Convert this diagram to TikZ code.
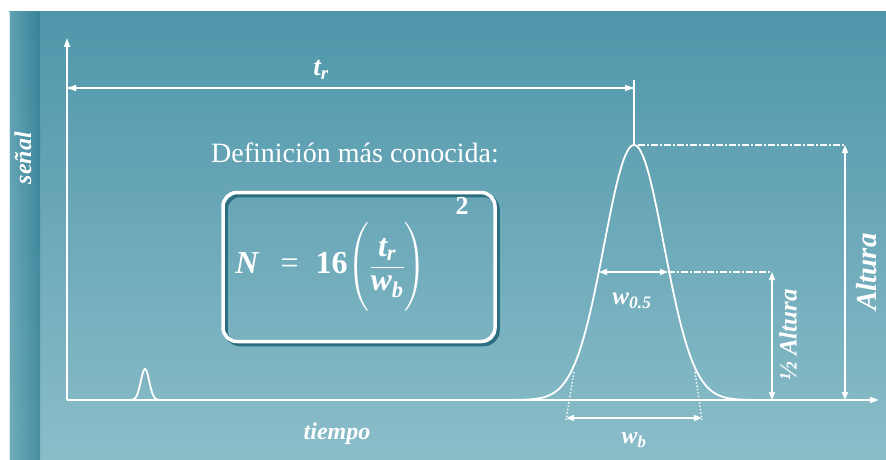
\documentclass[tikz,border=0pt]{standalone}
\usepackage{fontspec}
\setmainfont{Liberation Serif}
\usepackage{amsmath}
\usetikzlibrary{arrows.meta}
\definecolor{paneltop}{HTML}{4F96AA}
\definecolor{panelbot}{HTML}{8BBDC9}
\definecolor{stripdark}{HTML}{2E7C91}
\definecolor{striplight}{HTML}{67A6B7}
\definecolor{boxshade}{HTML}{2A6E80}
\newcommand{\bisub}[2]{{\bfseries\itshape #1$_{\text{\bfseries\itshape #2}}$}}

\tikzset{
  wline/.style={white,line width=1.8pt},
  tip/.style={-{Triangle[length=9pt,width=6pt]}},
  dimarrow/.style={white,line width=1.5pt,{Triangle[length=8pt,width=6pt]}-{Triangle[length=8pt,width=6pt]}},
  dashdot/.style={white,line width=1.5pt,dash pattern=on 7pt off 2pt on 2pt off 2pt},
  tangent/.style={white,line width=1.4pt,dotted},
  lbl/.style={text=white,font=\fontsize{24}{28}\selectfont\bfseries\itshape},
  formbox/.style={draw=white,line width=3.5pt,rounded corners=14pt,minimum width=272pt,minimum height=149pt},
  shadebox/.style={formbox,draw=boxshade},
}

\begin{document}
\begin{tikzpicture}[x=1pt,y=-1pt,font=\fontsize{24}{28}\selectfont]
  \useasboundingbox (0,0) rectangle (886,460);
  \fill[white] (0,0) rectangle (886,460);
  % panel
  \shade[top color=paneltop,bottom color=panelbot] (9,12) rectangle (886,460);
  \shade[left color=striplight,right color=stripdark,opacity=0.7] (9,12) rectangle (40,460);
  \draw[white!70!panelbot,line width=1pt] (9.5,12) -- (9.5,460);

  % axes
  \coordinate (O) at (67,400);
  \coordinate (ytip) at (67,38);
  \coordinate (xtip) at (879,400);
  \draw[wline,tip] (O) -- (ytip);
  \draw[wline,tip] (O) -- (xtip);
  \node[lbl,rotate=90] (senal) at (23,158) {señal};
  \node[lbl] (tiempo) at (337,434) {tiempo};

  % small peak
  \draw[wline] plot[domain=125:165,samples=60] (\x,{400-31*exp(-((\x-145)/4.2)^2/2)});

  % main peak
  \draw[wline] plot[domain=515:755,samples=160] (\x,{400-255*exp(-((\x-634)/30)^2/2)});

  % retention time
  \coordinate (trL) at (67,88);
  \coordinate (trR) at (634,88);
  \coordinate (trtop) at (634,80);
  \coordinate (apex) at (634,145);
  \draw[wline,line width=1.5pt] (trtop) -- (apex);
  \draw[white,line width=1.5pt,tip] (trR) -- (trL);
  \draw[white,line width=1.5pt,tip] (trL) -- (trR);
  \node[lbl,font=\fontsize{27}{30}\selectfont\bfseries\itshape] (tr) at (321,70) {\bisub{t}{r}};

  % definition and formula
  \node[text=white,font=\fontsize{28}{30}\selectfont] (defn) at (355,153) {Definición más conocida:};
  \node[shadebox] (boxsh) at (362,270) {};
  \node[formbox] (box) at (359,267) {};
  \node[text=white,font=\fontsize{32}{34}\selectfont] (form) at (331,267)
    {{\bfseries\itshape N}\;\, = \;{\bfseries 16}$\left(\rule[-32pt]{0pt}{80pt}\dfrac{\text{\bisub{t}{r}}}{\text{\bisub{w}{b}}}\right)$};
  \node[text=white,font=\fontsize{26}{28}\selectfont\bfseries] (sq) at (462,206) {2};

  % half width
  \coordinate (hL) at (599,272);
  \coordinate (hR) at (668,272);
  \coordinate (hend) at (772,272);
  \draw[dimarrow] (hL) -- (hR);
  \node[lbl,font=\fontsize{25}{28}\selectfont\bfseries\itshape] (w05) at (632,301) {\bisub{w}{0.5}};
  \draw[dashdot] (hR) -- (hend);
  \coordinate (hbase) at (772,400);
  \draw[dimarrow] (hbase) -- (hend);
  \node[lbl,rotate=90,font=\fontsize{25}{28}\selectfont\bfseries\itshape] (halt) at (788,335) {½ Altura};

  % full height
  \coordinate (pend) at (845,145);
  \coordinate (pbase) at (845,400);
  \draw[dashdot] (apex) ++(4,0) -- (pend);
  \draw[dimarrow] (pbase) -- (pend);
  \node[lbl,rotate=90,font=\fontsize{29}{32}\selectfont\bfseries\itshape] (alt) at (867,272) {Altura};

  % base width
  \coordinate (tl1) at (574,372);
  \coordinate (tl2) at (566,420);
  \coordinate (tr1) at (695,372);
  \coordinate (tr2) at (702,420);
  \draw[tangent] (tl1) -- (tl2);
  \draw[tangent] (tr1) -- (tr2);
  \coordinate (bL) at (566,418);
  \coordinate (bR) at (702,418);
  \draw[dimarrow] (bL) -- (bR);
  \node[lbl] (wb) at (634,440) {\bisub{w}{b}};
\end{tikzpicture}
\end{document}
